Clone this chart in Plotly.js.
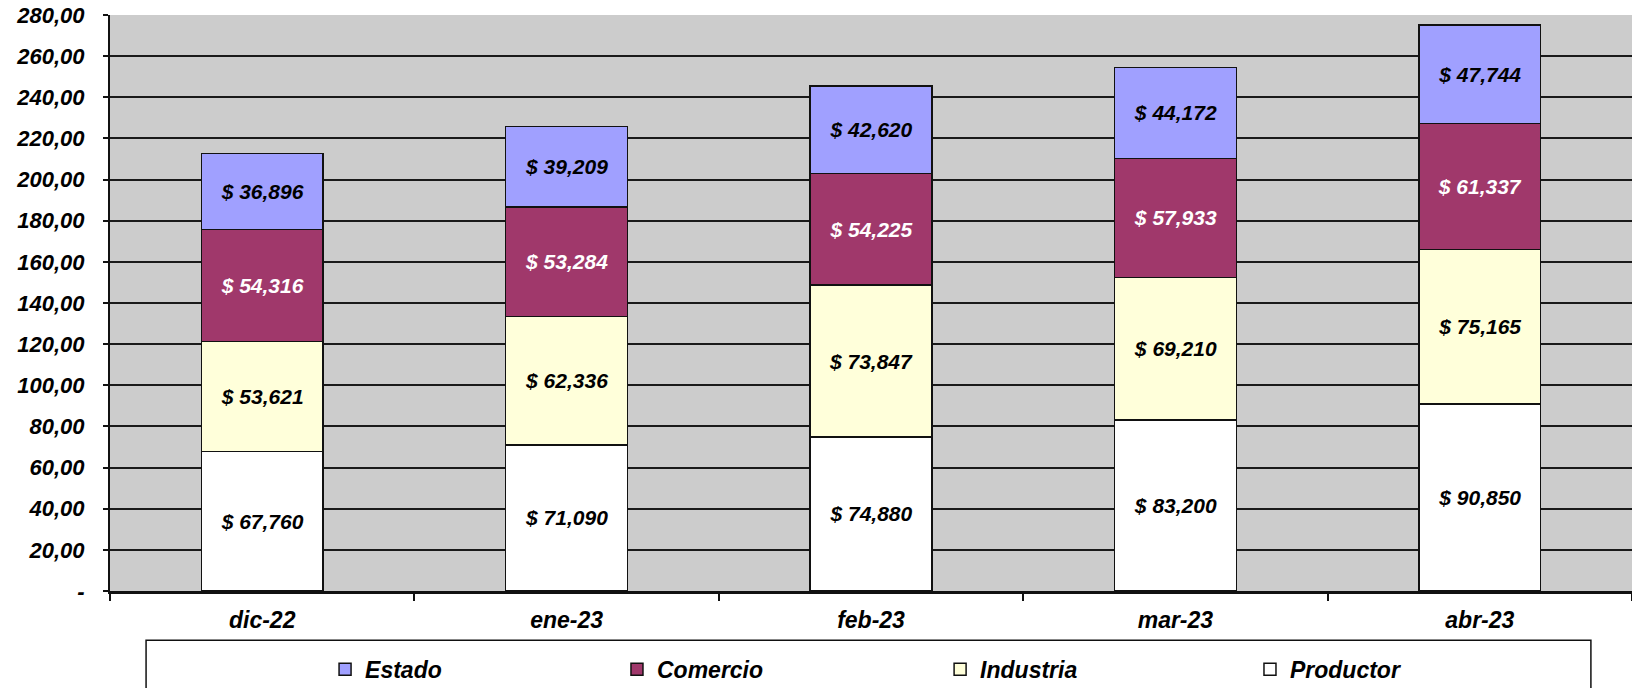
<!DOCTYPE html>
<html>
<head>
<meta charset="utf-8">
<script src="https://cdn.plot.ly/plotly-3.0.1.min.js"></script>
<style>
  html, body { margin: 0; padding: 0; background: #ffffff; }
  #chart { width: 1632px; height: 688px; }
</style>
</head>
<body>
<div id="chart"></div>
<script>
// ---- data (thousands of $) ----
const months = ["dic-22", "ene-23", "feb-23", "mar-23", "abr-23"];
const productor = [67.760, 71.090, 74.880, 83.200, 90.850];
const industria = [53.621, 62.336, 73.847, 69.210, 75.165];
const comercio  = [54.316, 53.284, 54.225, 57.933, 61.337];
const estado    = [36.896, 39.209, 42.620, 44.172, 47.744];
const yTickVals   = [0, 20, 40, 60, 80, 100, 120, 140, 160, 180, 200, 220, 240, 260, 280];
const yTickLabels = ["-", "20,00", "40,00", "60,00", "80,00", "100,00", "120,00", "140,00",
                     "160,00", "180,00", "200,00", "220,00", "240,00", "260,00", "280,00"];

const FONT = "Liberation Sans, Arial, sans-serif";

function barTrace(name, values, fill, textColor, legendId) {
  return {
    type: "bar",
    name: name,
    legend: legendId,
    x: months,
    y: values,
    width: 0.4,
    marker: { color: fill, line: { color: "#111111", width: 1.5 } },
    texttemplate: "<b><i>$ %{y:.3f}</i></b>",
    textposition: "inside",
    insidetextanchor: "middle",
    constraintext: "none",
    textangle: 0,
    textfont: { family: FONT, size: 21, color: textColor },
    hoverinfo: "skip"
  };
}

const traces = [
  barTrace("Productor", productor, "#ffffff", "#000000", "legend4"),
  barTrace("Industria", industria, "#ffffda", "#000000", "legend3"),
  barTrace("Comercio", comercio, "#a0386b", "#ffffff", "legend2"),
  barTrace("Estado", estado, "#a0a0ff", "#000000", "legend")
];

function legendAt(xPaper) {
  return {
    orientation: "h",
    x: xPaper,
    xanchor: "left",
    y: -0.136,
    yanchor: "middle",
    bgcolor: "rgba(0,0,0,0)",
    borderwidth: 0,
    font: { family: FONT, size: 23, color: "#000000", weight: "bold", style: "italic" }
  };
}

const layout = {
  width: 1632,
  height: 688,
  margin: { l: 110, r: 0, t: 15, b: 97, autoexpand: false },
  paper_bgcolor: "#ffffff",
  plot_bgcolor: "#cccccc",
  barmode: "stack",
  separators: ",.",
  font: { family: FONT, color: "#000000" },
  showlegend: true,
  legend: legendAt(0.1413),
  legend2: legendAt(0.3331),
  legend3: legendAt(0.5454),
  legend4: legendAt(0.7490),
  xaxis: {
    type: "category",
    range: [-0.5, 4.5],
    tickson: "boundaries",
    ticks: "outside",
    ticklen: 7,
    tickwidth: 2,
    tickcolor: "#111111",
    showgrid: false,
    showline: true,
    linecolor: "#111111",
    linewidth: 3,
    ticklabelstandoff: 6,
    tickfont: { family: FONT, size: 23, color: "#000000", weight: "bold", style: "italic" },
    fixedrange: true
  },
  yaxis: {
    range: [0, 280],
    tickmode: "array",
    tickvals: yTickVals,
    ticktext: yTickLabels,
    ticks: "outside",
    ticklen: 5,
    tickwidth: 2,
    tickcolor: "#111111",
    showgrid: true,
    gridcolor: "#1a1a1a",
    gridwidth: 2,
    zeroline: false,
    showline: true,
    linecolor: "#111111",
    linewidth: 2,
    ticklabelstandoff: 14,
    tickfont: { family: FONT, size: 22, color: "#000000", weight: "bold", style: "italic" },
    fixedrange: true
  },
  shapes: [
    {
      type: "rect",
      xref: "paper", yref: "paper",
      x0: 0.0237, x1: 0.973,
      y0: -0.0853, y1: -0.25,
      line: { color: "#111111", width: 1.5 },
      fillcolor: "rgba(0,0,0,0)",
      layer: "above"
    }
  ]
};

Plotly.newPlot("chart", traces, layout, { staticPlot: true, displayModeBar: false });
</script>
</body>
</html>
